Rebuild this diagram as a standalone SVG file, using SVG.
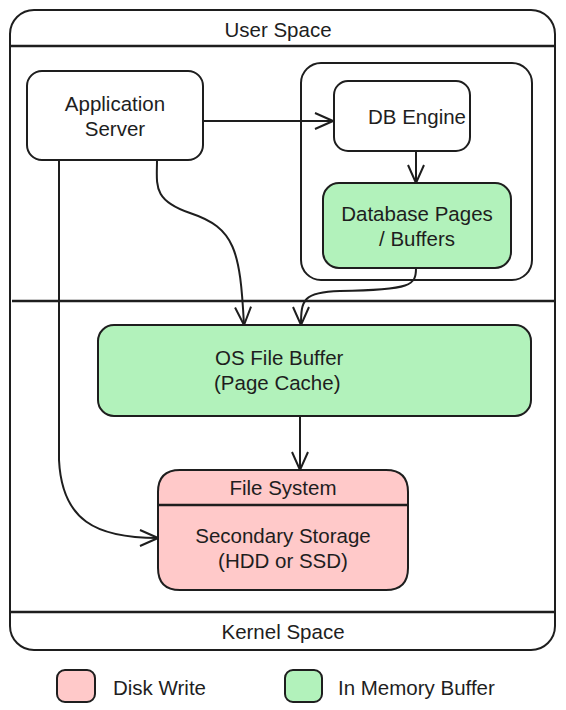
<svg xmlns="http://www.w3.org/2000/svg" width="566" height="710" viewBox="0 0 566 710">
<defs>
<style>
.box{stroke:#1e1e1e;stroke-width:2;fill:#ffffff}
.green{fill:#b2f2bb}
.pink{fill:#ffc9c9}
.ln{stroke:#1e1e1e;stroke-width:2.5;fill:none}
.con{stroke:#1e1e1e;stroke-width:2;fill:none;marker-end:url(#ah)}
text{font-family:"Liberation Sans",Arial,sans-serif;font-size:20.5px;fill:#1e1e1e;text-anchor:middle;dominant-baseline:central}
.left{text-anchor:start}
</style>
<marker id="ah" viewBox="0 0 20 20" refX="19" refY="10" markerWidth="20" markerHeight="20" markerUnits="userSpaceOnUse" orient="auto">
<path d="M1,2 L19,10 L1,18" fill="none" stroke="#1e1e1e" stroke-width="2"/>
</marker>
</defs>
<rect width="566" height="710" fill="#ffffff"/>
<g id="frame">
<rect class="box" x="10" y="10" width="545" height="640" rx="24"/>
<line class="ln" x1="10" y1="46" x2="555" y2="46"/>
<line class="ln" x1="12" y1="301" x2="555" y2="301"/>
<line class="ln" x1="10" y1="612" x2="555" y2="612"/>
<text x="278" y="29">User Space</text>
<text x="283" y="631">Kernel Space</text>
</g>
<g id="db-container">
<rect class="box" x="301" y="63" width="231" height="217" rx="20"/>
</g>
<g id="app-server">
<rect class="box" x="27" y="71" width="176" height="89" rx="15"/>
<text x="115" y="103">Application</text>
<text x="115" y="128">Server</text>
</g>
<g id="db-engine">
<rect class="box" x="334" y="81" width="136" height="70" rx="14"/>
<text x="417" y="116">DB Engine</text>
</g>
<g id="db-pages">
<rect class="box green" x="323" y="183" width="188" height="85" rx="16"/>
<text x="417" y="213">Database Pages</text>
<text x="417" y="238">/ Buffers</text>
</g>
<g id="os-buffer">
<rect class="box green" x="98" y="325" width="433" height="91" rx="16"/>
<text class="left" x="215" y="357">OS File Buffer</text>
<text class="left" x="214" y="382">(Page Cache)</text>
</g>
<g id="file-system">
<path class="box pink" d="M180,470 H386 Q408,470 408,492 V568 Q408,590 386,590 H180 Q158,590 158,568 V492 Q158,470 180,470 Z"/>
<line class="ln" x1="158" y1="505" x2="408" y2="505"/>
<text x="283" y="487">File System</text>
<text x="283" y="535">Secondary Storage</text>
<text x="283" y="560">(HDD or SSD)</text>
</g>
<g id="legend">
<rect class="box pink" x="57" y="670" width="38" height="32" rx="8"/>
<text class="left" x="113" y="687">Disk Write</text>
<rect class="box green" x="285" y="670" width="37" height="32" rx="8"/>
<text class="left" x="338" y="687">In Memory Buffer</text>
</g>
<g id="connectors">
<path class="con" d="M203,121 L333,121"/>
<path class="con" d="M416,151 L416,183"/>
<path class="con" d="M157,160 C157,185 152,200 190,213 C235,228 240,250 244,325"/>
<path class="con" d="M416,268 C416,285 412,290 340,291 C303,292 301,300 301,325"/>
<path class="con" d="M59,160 L59,460 C62,520 95,538 158,538"/>
<path class="con" d="M300,416 L300,470"/>
</g>
</svg>
